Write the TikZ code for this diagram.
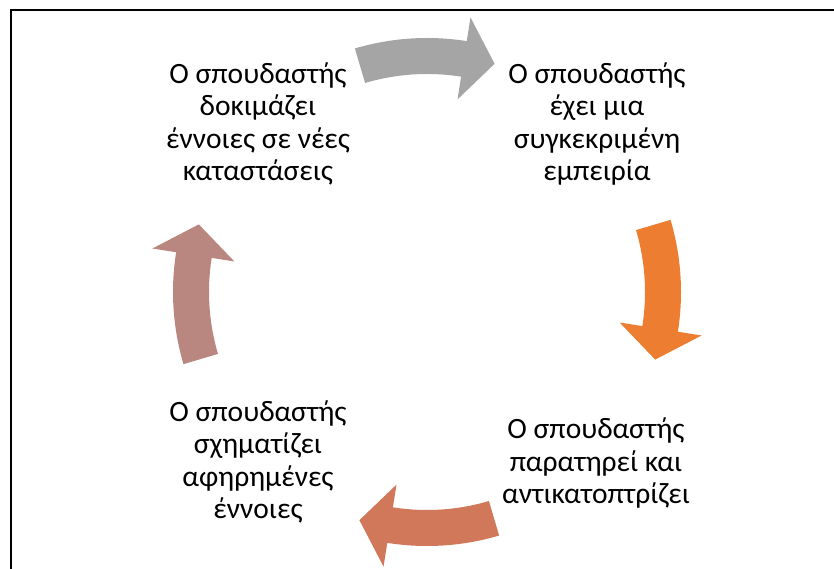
\documentclass[tikz,border=0pt]{standalone}
\usepackage{fontspec}
\setmainfont{Carlito}
\definecolor{arrgray}{HTML}{A5A5A5}
\definecolor{arrorange}{HTML}{ED7D31}
\definecolor{arrred}{HTML}{D1775A}
\definecolor{arrrose}{HTML}{BA8780}
\newcommand{\cycarrow}[2]{%
  \fill[#2] ({#1+16.5}:254pt) arc[start angle={#1+16.5}, end angle={#1-9}, radius=254pt]
    -- ({#1-9}:278pt) -- ({#1-16.5}:238pt) -- ({#1-9}:195pt) -- ({#1-9}:218pt)
    arc[start angle={#1-9}, end angle={#1+16.5}, radius=218pt] -- cycle;}
\tikzset{
  steptext/.style={align=center, inner sep=0pt, font=\fontsize{29.5}{32.5}\selectfont, text=black},
  frameline/.style={line width=2pt, draw=black}
}
\begin{document}
\begin{tikzpicture}[x=1pt,y=1pt]
\useasboundingbox (0,0) rectangle (834,569);
\fill[white] (0,0) rectangle (834,569);
\draw[frameline] (11,0) -- (11,559) -- (834,559);
\begin{scope}[shift={(427,277)}]
  \cycarrow{90}{arrgray}
  \cycarrow{0}{arrorange}
  \cycarrow{-90}{arrred}
  \cycarrow{180}{arrrose}
\end{scope}
\node[steptext] (tl) at (258,445) {Ο σπουδαστής\\δοκιμάζει\\έννοιες σε νέες\\καταστάσεις};
\node[steptext] (tr) at (597,445) {Ο σπουδαστής\\έχει μια\\συγκεκριμένη\\εμπειρία};
\node[steptext] (br) at (596,106) {Ο σπουδαστής\\παρατηρεί και\\αντικατοπτρίζει};
\node[steptext] (bl) at (258,107) {Ο σπουδαστής\\σχηματίζει\\αφηρημένες\\έννοιες};
\end{tikzpicture}
\end{document}
